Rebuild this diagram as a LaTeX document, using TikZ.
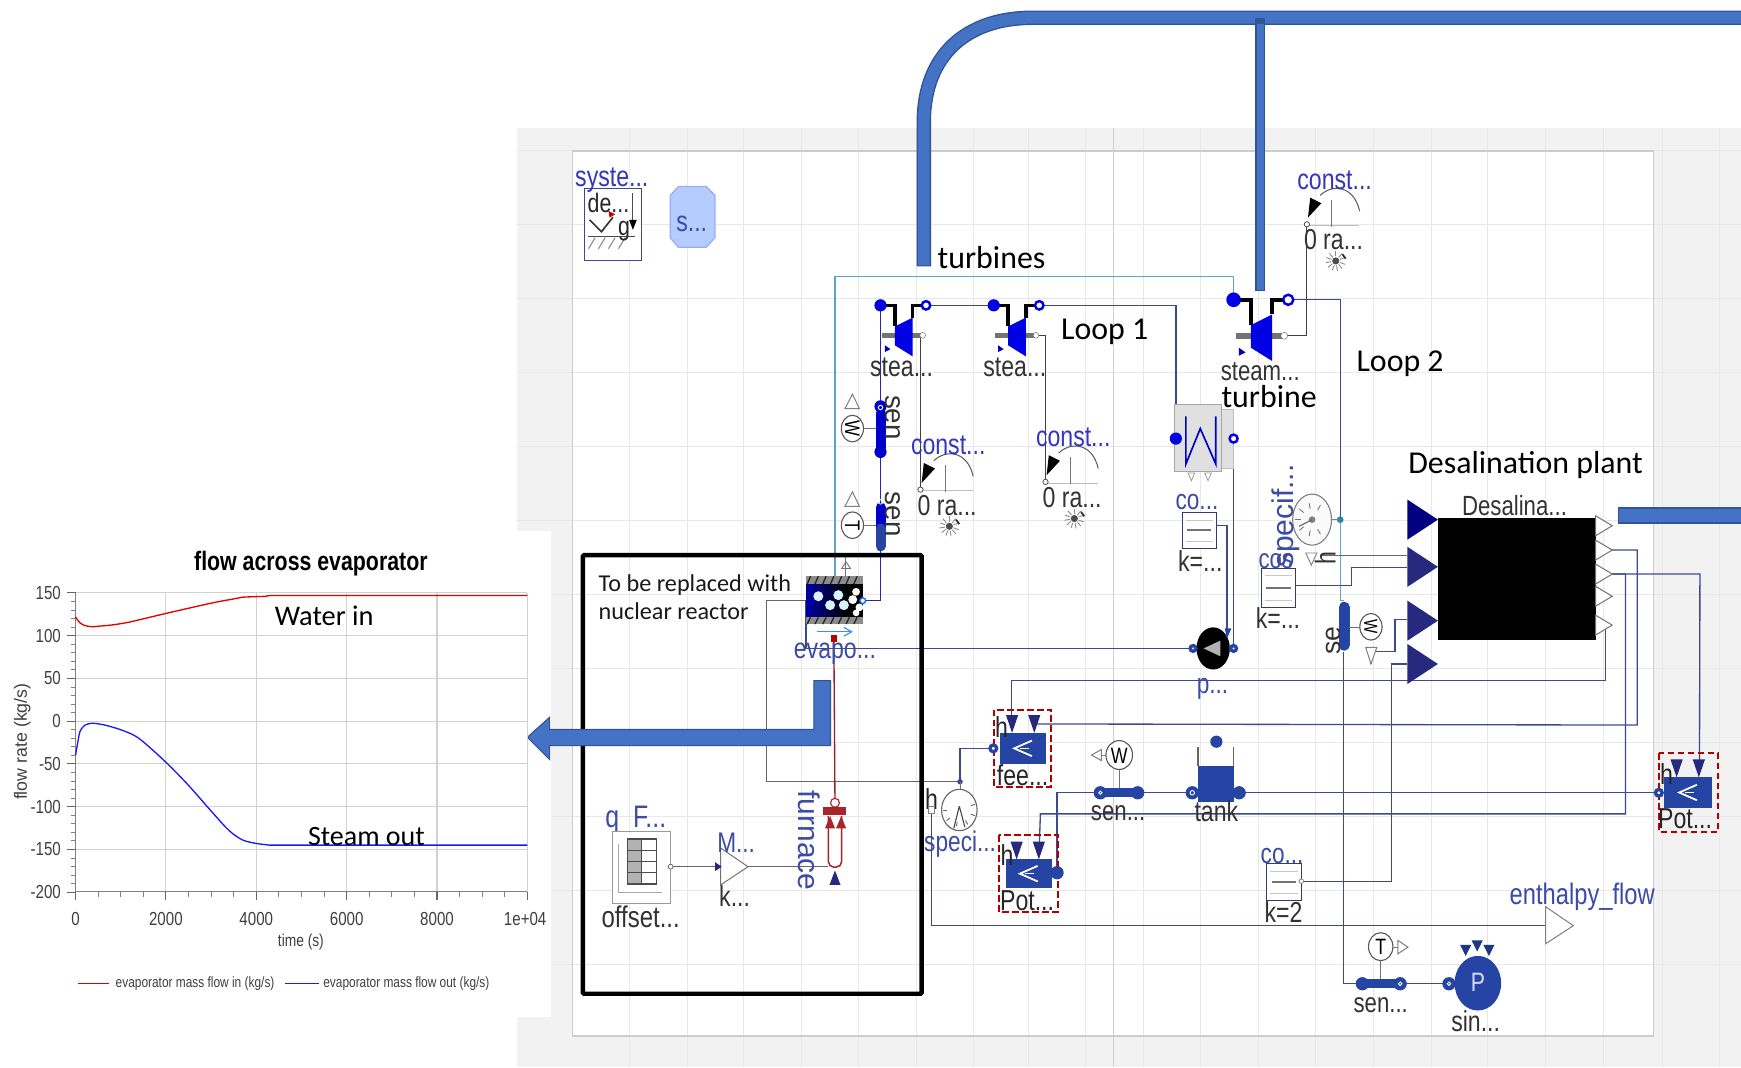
\documentclass[tikz,border=0pt]{standalone}
\usepackage{fontspec}
\newfontfamily\modl[FakeStretch=0.8]{Liberation Sans}
\newfontfamily\modlw{Liberation Sans}
\newfontfamily\ann{Carlito}
\usetikzlibrary{calc}
\definecolor{pipe}{HTML}{4472C4}
\definecolor{pipeedge}{HTML}{2F5597}
\definecolor{wirecol}{HTML}{3E4A8E}
\definecolor{lightwire}{HTML}{5FA3CC}
\definecolor{lblblue}{HTML}{3535BE}
\definecolor{lblnavy}{HTML}{3B4BA6}
\definecolor{comp}{HTML}{2544A4}
\definecolor{navytri}{HTML}{27297F}
\definecolor{dred}{HTML}{A8252C}
\newcommand\fs[1]{\fontsize{#1}{#1}\selectfont}
\tikzset{
  wire/.style={draw=wirecol,line width=1.2pt},
  grayline/.style={draw=black!60,line width=1pt},
  lightw/.style={draw=lightwire,line width=1.1pt},
  blackw/.style={draw=black!75,line width=1pt},
  lab/.style={inner sep=0pt,font=\modl\fs{26},text=black!80},
  blab/.style={inner sep=0pt,font=\modl\fs{26},text=lblblue},
  nlab/.style={inner sep=0pt,font=\modl\fs{25.5},text=lblnavy},
  note/.style={inner sep=0pt,font=\ann\fs{28.7},text=black},
  tick/.style={inner sep=0pt,font=\modl\fs{17},text=black!75},
  ringup/.style={draw=blue!90!black,fill=white,line width=2.2pt},
  ringlow/.style={draw=comp,fill=white,line width=2.2pt},
  redbox/.style={draw=red!70!black,dashed,line width=1.8pt,dash pattern=on 6pt off 3pt},
  gridl/.style={draw=black!9,line width=.9pt},
}
\newcommand\turbsym[3]{\begin{scope}[shift={(#1,#2)},scale=#3]
  \draw[black!55,line width=5pt] (1.5,27)--(38,27);
  \fill[blue!90!black] (13,19)--(29,11)--(29,46)--(13,36)--cycle;
  \draw[black,line width=3.2pt] (0,0)-|(13,19);
  \draw[black,line width=3.2pt] (41,0)-|(29,11);
  \fill[blue!90!black] (0,0) circle (5.5);
  \draw[ringup] (41,0) circle (3.8);
  \fill[white,draw=black!60] (38,27) circle (2.6);
  \fill[blue!70!black] (4,36)--(9,39.5)--(4,42)--cycle;
\end{scope}}
\newcommand\eyeicon[2]{\begin{scope}[shift={(#1,#2)}]
  \fill[black!70] (0,0) circle (3.2);
  \foreach \a in {20,50,80,110,140,170,200,340,310,270,230}{\draw[black!45,line width=.8pt] (\a:4)--(\a:9);}
  \draw[black!80,line width=1.6pt] (6,-6)--(9,-2);
\end{scope}}
\newcommand\constsym[3]{\begin{scope}[shift={(#1,#2)}]
  \draw[black!25,line width=.8pt] (0,1)--(47,1);
  \draw[black!55,line width=.9pt] (22.6,-22)--(22.6,2);
  \draw[black!65,line width=.9pt] (12,-26) .. controls (22,-36) and (42,-36) .. (47.5,-12);
  \fill[black] (1,-6)--(3,-24)--(13,-19)--cycle;
  \draw[black!70,fill=white,line width=.7pt] (0,0) circle (2.4);
  \node[blab] (#3lab) at (25,-40) {const...};
  \node[lab] (#3val) at (24,14) {0 ra...};
  \eyeicon{26}{33}
\end{scope}}
\newcommand\gainbox[4]{%
  \draw[draw=wirecol!80!black,fill=white,line width=.9pt] (#1,#2) rectangle (#3,#4);
  \draw[black!22,line width=.9pt] ($(#1,#2)!.1!(#3,#2)+(0,7)$)--($(#1,#2)!.9!(#3,#2)+(0,7)$);
  \draw[black!22,line width=.9pt] ($(#1,#4)!.1!(#3,#4)+(0,-6)$)--($(#1,#4)!.9!(#3,#4)+(0,-6)$);
  \draw[black!55,line width=1.5pt] ($(#1,#2)!.15!(#3,#2)!.5!($(#1,#4)!.15!(#3,#4)$)$)--($(#1,#2)!.85!(#3,#2)!.5!($(#1,#4)!.85!(#3,#4)$)$);
}
\newcommand\valvesym[9]{%
  \draw[redbox] (#1,#2) rectangle (#3,#4);
  \fill[comp] (#5,#6) rectangle (#7,#8);
  \draw[white,line width=1.6pt] ($(#5,#6)!.5!(#7,#8)+(8,-7)$)--($(#5,#6)!.5!(#7,#8)+(-8,0)$)--($(#5,#6)!.5!(#7,#8)+(8,7)$);
  \draw[white,line width=1.2pt] ($(#5,#6)!.5!(#7,#8)+(-3,0)$)--($(#5,#6)!.5!(#7,#8)+(5,0)$);
  \fill[navytri] (#9-5.5,\valy-9)--(#9+5.5,\valy-9)--(#9,\valy+7)--cycle;
  \fill[navytri] (#9+14.5,\valy-9)--(#9+25.5,\valy-9)--(#9+20,\valy+7)--cycle;
}
\newcommand\sensbarh[3]{%
  \draw[comp,line width=8pt,line cap=round] (#1+4,#3)--(#2-4,#3);
  \fill[comp] (#1+4,#3) circle (6) (#2-4,#3) circle (6);
}
\newcommand\destri[2]{\fill[#2] (1267.6,#1-18)--(1295,#1)--(1267.6,#1+18)--cycle;}
\newcommand\outtri[1]{\draw[fill=white,draw=black!55,line width=.9pt] (1437,#1-9)--(1452,#1)--(1437,#1+9)--cycle;}
\begin{document}
\begin{tikzpicture}[x=1pt,y=-1pt]
\useasboundingbox (0,0) rectangle (1568,961);
\fill[white] (0,0) rectangle (1568,961);
\fill[black!5] (466,115) rectangle (1568,961);
\fill[white] (516,136) rectangle (1489,933);
\foreach \gy in {135.5,202,268.6,335.3,402,468.6,535.3,602,668.6,735.3,802,868.6}{\draw[gridl] (466,\gy)--(1568,\gy);}
\foreach \gx in {567,619,670,722,773,825,877,926,978,1030,1081,1133,1185,1237,1289,1340,1392,1444,1497,1549}{\draw[gridl] (\gx,115)--(\gx,961);}
\draw[draw=black!18,line width=1pt] (1003,115)--(1003,961);
\draw[draw=black!20,line width=1pt] (516,136) rectangle (1489,933);
\fill[white] (0,478) rectangle (496,916);
% ports
\coordinate (t1in) at (793,275); \coordinate (t1out) at (834,275); \coordinate (t1sh) at (831,302);
\coordinate (t2in) at (895,275); \coordinate (t2out) at (936,275); \coordinate (t2sh) at (933,302);
\coordinate (t3in) at (1111,270); \coordinate (t3out) at (1160,270); \coordinate (t3sh) at (1155,302);
\coordinate (c1) at (829,441); \coordinate (c2) at (941.6,434); \coordinate (c3) at (1177,202);
\coordinate (condin) at (1059,395); \coordinate (condout) at (1111,395);
\coordinate (pumpin) at (1074.5,584); \coordinate (pumpout) at (1111,584);
\coordinate (evT) at (752,519); \coordinate (evR) at (777,541); \coordinate (evL) at (726,541);
\coordinate (evB) at (751,575); \coordinate (evC) at (726,584);
\coordinate (furnT) at (752,723); \coordinate (furnS) at (746,780.6);
\coordinate (tabO) at (604,780.6); \coordinate (gainI) at (649,780.6); \coordinate (gainO) at (674,780.6);
\coordinate (specT) at (864.6,704); \coordinate (specH) at (839,729);
\coordinate (teeL) at (894.6,674); \coordinate (teeA) at (911,652); \coordinate (teeB) at (931,652);
\coordinate (potLp) at (952,786); \coordinate (potLa) at (936,763);
\coordinate (potRp) at (1494,714); \coordinate (potRb) at (1530.6,690);
\coordinate (tankL) at (1073.8,714); \coordinate (tankR) at (1116,714);
\coordinate (senmL) at (987,714); \coordinate (senmR) at (1028.6,714);
\coordinate (senbL) at (1223,886); \coordinate (senbR) at (1265,886);
\coordinate (sinkp) at (1305,886);
\coordinate (enth) at (1392,833.7);
\coordinate (dot2) at (1207,468);
\coordinate (segT) at (1210,541); \coordinate (segB) at (1210,587);
\coordinate (wT) at (1234.7,598);
\coordinate (co1O) at (1095.5,473.5); \coordinate (co2O) at (1167,527.5); \coordinate (co3O) at (1172,793.6);
\coordinate (hO) at (1190,500);
\coordinate (d2a) at (1267.6,500); \coordinate (d2b) at (1267.6,511); \coordinate (d3) at (1267.6,558); \coordinate (d4) at (1267.6,598);
\coordinate (o2) at (1452,495.4); \coordinate (o3) at (1452,517); \coordinate (o5) at (1445,563);
% connectors
\draw[lightw] (evT)--(752,249)-|(t3in);
\draw[wire] (t1out)--(t2in);
\draw[wire] (t2out)-|(condin);
\draw[wire,draw=blue!55!black!85] (t1in)--(793,541)--(evR);
\draw[blackw] (t1sh)--(c1|-t1sh)--(c1);
\draw[blackw] (t2sh)--(c2|-t2sh)--(c2);
\draw[blackw] (t3sh)-|(c3);
\draw[wire] (t3out)-|(dot2);
\draw[lightw] (dot2)--(1207,541)--(segT);
\draw[wire] (evL)--(evC)--(pumpin);
\draw[grayline] (evL)--(690,541)--(690,704)--(specT);
\draw[wire] (teeL)-|(specT);
\draw[draw=dred!90!black,line width=1.2pt] (evB)--(furnT);
\draw[wire] (condout)--(pumpout);
\draw[wire] (co1O)--(1105,473.5)--(1105,568);
\draw[grayline] (hO)--(d2a);
\draw[wire] (co2O)--(1217,527.5)--(1217,511)--(d2b);
\draw[wire] (wT)--(1234.7,587)--(1256.5,587)--(1256.5,558)--(d3);
\draw[wire] (co3O)-|(1253,598)--(d4);
\draw[wire] (o2)--(1474.5,495.4)--(1474.5,653)--(teeB);
\draw[wire] (o3)--(1531,517)--(potRb);
\draw[wire] (o3)--(1464,517)--(1464,733)--(937,733)--(potLa);
\draw[wire] (o5)--(1446,563)--(1446,613)--(911,613)--(teeA);
\draw[wire] (tankR)--(potRp);
\draw[wire] (tankL)--(senmR);
\draw[wire] (senmL)--(952,714)--(potLp);
\draw[wire] (specH)--(839,833.7)--(enth);
\draw[wire] (segB)--(1210,886)--(senbL);
\draw[wire] (senbR)--(sinkp);
\draw[grayline] (tabO)--(gainI);
\draw[grayline] (gainO)--(furnS);
% system
\draw[wirecol,fill=white,line width=.9pt] (526,170) rectangle (578,235);
\draw[black!80,line width=1.5pt] (531,198)--(541.7,208.7)--(552,195.7);
\fill[red!80!black] (548,190)--(554,193)--(549,196)--cycle;
\draw[black!70,line width=1pt] (529.6,212.6)--(572,212.6);
\foreach \hx in {536,545,554,563}{\draw[black!45,line width=1pt] (\hx,214)--(\hx-6,224);}
\draw[black!70,line width=1pt] (570,174)--(570,200);
\fill[black] (566.5,198)--(573.5,198)--(570,207)--cycle;
\node[blab] (syslab) at (551,162) {syste...};
\node[lab,font=\modl\fs{24},text=black!85] (sysde) at (548,183) {de...};
\node[lab,font=\modl\fs{24},text=black!85] (sysg) at (562,208) {g};
% s block
\draw[draw=blue!35!white,fill=blue!22!white!90!cyan,line width=1.2pt] (611,168)--(636,168)--(644,176)--(644,214)--(636,222.7)--(611,222.7)--(603.6,214)--(603.6,176)--cycle;
\node[nlab,font=\modl\fs{26}] (slab) at (623,202) {s...};
% turbines
\turbsym{793}{275}{1}
\turbsym{895}{275}{1}
\turbsym{1111}{270}{1.2}
\node[lab] (st1) at (812,331) {stea...};
\node[lab] (st2) at (914,331) {stea...};
\node[lab,font=\modl\fs{25}] (st3) at (1135,335) {steam...};
% const
\constsym{829}{441}{conA}
\constsym{941.6}{434}{conB}
\constsym{1177}{202}{conC}
% vertical sensors
\draw[blue!80!black,line width=9pt,line cap=round] (793,372)--(793,403);
\draw[blue!80!black,line width=9pt,line cap=round] (793,457)--(793,476);
\draw[comp,line width=9pt,line cap=round] (793,476)--(793,492);
\fill[blue!80!black] (793,407) circle (5.5) (793,366) circle (5.5);
\draw[white,line width=.8pt] (793,367) circle (2);
\draw[white,line width=.8pt] (793,452) circle (2);
\draw[black!55,line width=.9pt] (778,386)--(789,386);
\draw[black!55,line width=.9pt] (778,473)--(789,473);
\draw[black!65,fill=white,line width=1pt] (767.7,386) ellipse (10 and 12);
\draw[black!65,fill=white,line width=1pt] (767.7,473) ellipse (10 and 12);
\draw[black!50,fill=white,line width=.9pt] (767.7,355)--(761,368)--(774,368)--cycle;
\draw[black!50,fill=white,line width=.9pt] (767.7,443)--(761,456)--(774,456)--cycle;
\node[lab,rotate=-90,font=\modlw\fs{25}] (sen1) at (804,376) {sen};
\node[lab,rotate=-90,font=\modlw\fs{25}] (sen2) at (804,463) {sen};
\node[lab,rotate=-90,font=\modl\fs{19},text=black] (semA) at (767.7,386) {W};
\node[lab,rotate=-90,font=\modl\fs{19},text=black] (semB) at (767.7,473) {T};
% evaporator
\fill[black] (726,526) rectangle (777,556);
\shade[left color=blue!65!black,right color=black] (726,526) rectangle (762,556);
\fill[black!45] (726,519) rectangle (777,526);
\fill[black!45] (726,556) rectangle (777,562);
\foreach \hx in {730,737,...,776}{\draw[black!85,line width=1.2pt] (\hx,519)--(\hx-3,526); \draw[black!85,line width=1.2pt] (\hx,556)--(\hx-3,562);}
\foreach \bx/\by in {737/537,755/536,747.6/545,760/545}{\fill[white!85!cyan] (\bx,\by) circle (4.5);}
\fill[white] (771,533) circle (3.5) (768,540) circle (4) (774,547) circle (3.5) (771,552) circle (3);
\draw[draw=blue!60!cyan,fill=white,line width=1.2pt] (evR) circle (2.6);
\draw[black!55,fill=white,line width=.8pt] (762,506)--(758,512)--(766,512)--cycle;
\draw[black!55,line width=.8pt] (761.5,500)--(761.5,519);
\draw[blue!55!cyan!80,line width=1pt] (736,569)--(767,569);
\draw[blue!55!cyan!80,line width=1pt] (760,565)--(767,569)--(760,573);
\fill[red!75!black] (748,572) rectangle (754,578);
\node[nlab,font=\modl\fs{26}] (evlab) at (752,589) {evapo...};
% furnace
\draw[dred,line width=1.4pt,rounded corners=5pt] (746,735)--(746,781)--(758,781)--(758,735);
\draw[dred,fill=white,line width=1pt] (752,723) circle (4);
\fill[dred] (741.6,727) rectangle (762,734);
\fill[dred] (747.6,735)--(743,746)--(752,746)--cycle (757.6,735)--(753,746)--(762,746)--cycle;
\fill[navytri] (752,784)--(747,797)--(757,797)--cycle;
\node[nlab,rotate=-90,font=\modlw\fs{27}] (furnlab) at (729,757) {furnace};
% gain M
\draw[black!55,fill=white,line width=.9pt] (649,763.7)--(673.7,780.6)--(649,797)--cycle;
\fill[navytri] (644,776.5)--(650,780.6)--(644,784.5)--cycle;
\node[nlab] (mlab) at (663,759) {M...};
\node[lab] (klab) at (661.6,807) {k...};
% table
\node[nlab,anchor=west,font=\modl\fs{28}] (qlab) at (545,738.5) {q\_F...};
\draw[black!40,fill=white,line width=.9pt] (552,749) rectangle (604,814);
\fill[black!30] (565,755.7) rectangle (578,796);
\draw[black!70,line width=1.2pt] (565,755.7) rectangle (591,796);
\draw[black!70,line width=1.2pt] (578,755.7)--(578,796);
\foreach \ty in {765.7,775.7,786}{\draw[black!70,line width=1.1pt] (565,\ty)--(591,\ty);}
\draw[black!35,line width=.8pt] (557,760)--(557,804)--(596,804);
\draw[black!60,fill=white,line width=.7pt] (tabO) circle (2.2);
\node[lab,font=\modl\fs{27}] (offlab) at (577,825.6) {offset...};
% condenser
\draw[black!25,fill=black!12,line width=1pt] (1100,368.6) rectangle (1111,421.6);
\draw[black!35,fill=black!12,line width=1pt] (1058,364) rectangle (1100,425);
\draw[blue!80!black,line width=1.5pt] (1068,375)--(1068,418)--(1081,386)--(1095,418)--(1095,375);
\fill[blue!90!black] (condin) circle (5.5);
\draw[ringup] (condout) circle (3.6);
\draw[black!40,fill=white,line width=.7pt] (1070,426)--(1076,426)--(1073,433)--cycle (1085,426)--(1091,426)--(1088,433)--cycle;
% co gains
\gainbox{1064.6}{461.6}{1095.5}{493.6}
\node[nlab] (cola) at (1078,452) {co...};
\node[lab] (colk) at (1081,505) {k=...};
\gainbox{1135.8}{511.7}{1167}{547}
\node[lab] (colk2) at (1151,557) {k=...};
\gainbox{1140.5}{777.7}{1172}{810.6}
\node[nlab] (cola3) at (1154.7,770.7) {co...};
\node[lab] (colk3) at (1156,821) {k=2};
\draw[black!50,fill=white,line width=.7pt] (1172,793.6) circle (2);
% specific up
\draw[black!50,fill=black!2,line width=1pt] (1181.7,468) ellipse (17.5 and 23);
\foreach \sa in {100,140,180,220,260,60,300}{\draw[black!55,line width=.8pt] ($(1181.7,468)+(\sa:15)$)--($(1181.7,468)+(\sa:10)$);}
\fill[black!50] (1181.7,468) circle (3);
\draw[black!60,line width=1pt] (1181.7,468)--(1170,474);
\draw[black!50,fill=white,line width=.8pt] (1176,498)--(1186,498)--(1181,509)--cycle;
\fill[wirecol!70!cyan] (dot2) circle (3);
\draw[black!50,line width=.9pt] (1199,468)--(dot2);
\node[nlab,rotate=90,font=\modlw\fs{27}] (spflab) at (1158,465) {specif...};
\node[nlab,font=\modl\fs{25}] (cola2) at (1149,505) {cos};
\node[lab,rotate=90,text=black!80] (hU) at (1193.5,503) {h};
% pump
\fill[black] (1092.6,584) ellipse (15 and 19);
\fill[black!30] (1084,584)--(1099,577)--(1099,591)--cycle;
\draw[ringlow,line width=3pt] (pumpin) circle (2.6);
\draw[ringlow,line width=3pt] (pumpout) circle (2.6);
\fill[comp] (1103,566)--(1109,566)--(1105,575)--cycle;
\node[nlab] (pulab) at (1092,620) {p...};
% right sensor
\draw[comp,line width=10pt,line cap=round] (1210.5,547)--(1210.5,581);
\draw[black!55,line width=.9pt] (1215,565)--(1225,565);
\draw[black!65,fill=white,line width=1pt] (1234.7,564.5) ellipse (10 and 12);
\draw[black!50,fill=white,line width=.9pt] (1230,583)--(1240,583)--(wT)--cycle;
\node[lab,rotate=-90,font=\modl\fs{17},text=black] (semC) at (1234.7,564.5) {W};
\node[lab,rotate=90,font=\modlw\fs{24}] (selab) at (1201,577) {se};
% desalination
\fill[black] (1295,466.4) rectangle (1437,576.5);
\destri{468}{blue!50!black}
\destri{510.5}{navytri}
\destri{559}{navytri}
\destri{598}{navytri}
\outtri{473.5}\outtri{495.4}\outtri{517}\outtri{537}\outtri{563}
\node[lab,font=\modl\fs{25}] (deslab) at (1364,455) {Desalina...};
% tank
\draw[black!60,line width=1.1pt] (1079,673)--(1079,690);
\draw[black!60,line width=1.1pt] (1111,673)--(1111,690);
\fill[comp] (1079,690) rectangle (1111,722);
\fill[comp] (1095.5,668) circle (5.5);
\fill[comp] (tankL) circle (6) (tankR) circle (6);
\draw[white,line width=.8pt] (tankL) circle (2);
\node[lab] (tanklab) at (1095.5,731) {tank};
% mid sensor
\sensbarh{987}{1028.6}{714}
\draw[white,line width=.8pt] (991,714) circle (1.5);
\draw[black!55,line width=.9pt] (1008,692)--(1008,710);
\draw[black!65,fill=white,line width=1pt] (1008,680) ellipse (12 and 13);
\draw[black!50,fill=white,line width=.9pt] (983,680)--(992,675)--(992,685)--cycle;
\draw[black!50,line width=.8pt] (992,680)--(996,680);
\node[lab,font=\modl\fs{20},text=black] (wm) at (1008,681) {W};
\node[lab,font=\modl\fs{25}] (senm) at (1007,732) {sen...};
% valves
\def\valy{653}\valvesym{895}{639}{946.8}{708.6}{901}{660}{941.8}{688}{911.5}
\draw[ringlow,line width=3pt] (teeL) circle (3);
\node[lab,text=black!85] (teeh) at (902,655) {h};
\node[lab,text=black!85] (teelab) at (921,698) {fee...};
\def\valy{767}\valvesym{900}{752}{952.8}{821.5}{905.6}{773.7}{947.5}{800}{915.6}
\fill[comp] (potLp) circle (6);
\node[lab,text=black!85] (pothh) at (907,770) {h};
\node[lab,text=black!85] (potll) at (925,811) {Pot...};
\def\valy{693}\valvesym{1494}{678.6}{1547.6}{749}{1499}{699.5}{1541.6}{728}{1510}
\draw[ringlow,line width=3pt] (potRp) circle (3);
\node[lab,text=black!85] (poth2) at (1501,697) {h};
\node[lab,text=black!85] (potrr) at (1517.6,737) {Pot...};
% speci sensor
\draw[black!60,fill=white,line width=1pt] (864,729.5) ellipse (16 and 18.6);
\foreach \sa in {20,60,100,140,180,340}{\draw[black!60,line width=.8pt] ($(864,729.5)+(\sa:15)$)--($(864,729.5)+(\sa:11)$);}
\draw[black!70,line width=1pt] (864,726)--(859,746) (864,726)--(869,745);
\fill[wirecol] (specT) circle (2.5);
\draw[black!55,line width=.9pt] (864.6,704)--(864.6,711);
\node[lab,text=black!85] (speh) at (839,719.7) {h};
\draw[black!50,fill=white,line width=.8pt] (836,726) rectangle (842,733);
\node[nlab] (spelab) at (864.7,760) {speci...};
% enthalpy
\draw[black!50,fill=white,line width=.9pt] (1392,816.6)--(1417,833.7)--(1392,850)--cycle;
\node[nlab,font=\modl\fs{26.7}] (enthlab) at (1425,807.6) {enthalpy\_flow};
% bottom sensor and sink
\sensbarh{1223}{1265}{886}
\draw[white,line width=.8pt] (1261,886) circle (1.6);
\draw[black!55,line width=.9pt] (1243.5,864)--(1243.5,882);
\draw[black!65,fill=white,line width=1pt] (1243.5,852.6) ellipse (11 and 12.6);
\node[lab,font=\modl\fs{20},text=black] (tb) at (1243.5,853) {T};
\draw[black!50,fill=white,line width=.9pt] (1259,847)--(1268,853)--(1259,859)--cycle;
\draw[black!50,line width=.8pt] (1254,853)--(1259,853);
\node[lab,font=\modl\fs{25}] (senb) at (1243.5,905) {sen...};
\fill[comp] (1331,885.5) ellipse (21 and 24.6);
\fill[comp] (sinkp) circle (6);
\draw[white,line width=.8pt] (sinkp) circle (1.6);
\foreach \px/\py in {1320/851,1330.4/847,1341/851}{\fill[comp!80!black] (\px-5,\py)--(\px+5,\py)--(\px,\py+10)--cycle;}
\node[inner sep=0pt,font=\modl\fs{24},text=white!85!blue] (plab) at (1331,885) {P};
\node[lab] (sinlab) at (1329,920) {sin...};
% black frame
\draw[black,line width=4pt,rounded corners=1pt] (525,500) rectangle (830,895);
% annotations
\node[note,anchor=north west,align=left,font=\ann\fs{21.8},text=black!90] (toberep) at (539,517) {To be replaced with\\[4pt]nuclear reactor};
\node[note] (turbs) at (893,232) {turbines};
\node[note] (loop1) at (995,299) {Loop 1};
\node[note] (loop2) at (1261,328) {Loop 2};
\node[note] (turb) at (1143,357) {turbine};
\node[note] (desp) at (1374,419) {Desalination plant};
% big pipes
\draw[draw=pipeedge,line width=13pt] (832,240)--(832,110) .. controls (832,50) and (870,16) .. (930,16)--(1568,16);
\draw[draw=pipe,line width=10.5pt] (832,239)--(832,110) .. controls (832,50) and (870,16) .. (930,16)--(1568,16);
\draw[draw=pipeedge,line width=9pt] (1135,16)--(1135,262);
\draw[draw=pipe,line width=6.5pt] (1135,22)--(1135,261);
\fill[pipe,draw=pipeedge,line width=1pt] (1458,457.5) rectangle (1569,471);
\fill[pipe,draw=pipeedge,line width=1pt] (733,613)--(748,613)--(748,671.5)--(495,671.5)--(495,684)--(475,664)--(495,646)--(495,657)--(733,657)--cycle;
% chart
\begin{scope}
 \foreach \v in {534,572.5,611,649.5,688,726.5,765}{\draw[black!18,line width=1pt] (68,\v)--(475,\v);}
 \foreach \u in {149.4,230.8,312.2,393.6,475}{\draw[black!18,line width=1pt] (\u,534)--(\u,803);}
 \draw[black!50,line width=1pt] (68,534)--(68,803)--(475,803);
 \foreach \i in {0,...,35}{\draw[black!50,line width=.8pt] (64,534+\i*7.7)--(68,534+\i*7.7);}
 \foreach \i in {0,...,7}{\draw[black!60,line width=1pt] (60,534+\i*38.5)--(68,534+\i*38.5);}
 \foreach \i in {0,...,20}{\draw[black!50,line width=.8pt] (68+\i*20.35,803)--(68+\i*20.35,808);}
 \foreach \i in {0,...,5}{\draw[black!60,line width=1pt] (68+\i*81.4,803)--(68+\i*81.4,811);}
 \foreach \lb [count=\i from 0] in {150,100,50,0,-50,-100,-150,-200}{\node[tick,anchor=east] (yt\i) at (55,534+\i*38.5) {\lb};}
 \foreach \lb [count=\i from 0] in {0,2000,4000,6000,8000}{\node[tick] (xt\i) at (68+\i*81.4,827.5) {\lb};}
 \node[tick] (xt5) at (473,827.5) {1e+04};
 \node[tick,font=\modl\fs{15.5}] (xlab) at (271,848) {time (s)};
 \node[tick,rotate=90,font=\modlw\fs{16}] (ylab) at (20,668) {flow rate (kg/s)};
 \node[inner sep=0pt,font=\modl\bfseries\fs{24},text=black] (ctitle) at (280,508) {flow across evaporator};
 \begin{scope}[shift={(68,649.5)},x=0.0407pt,y=0.77pt]
  \draw[red!90!black,line width=1.2pt] plot[smooth,tension=.5] coordinates {(0,122) (50,118) (100,115) (200,112) (350,110.5) (500,111) (800,112.5) (1200,116) (2000,126) (3000,138) (3500,143) (3700,145) (4200,146)} -- (4300,147)--(10000,147);
  \draw[blue!90!white,line width=1.2pt] plot[smooth,tension=.5] coordinates {(0,-40) (50,-25) (100,-12) (200,-5) (350,-2.5) (600,-4) (1000,-10) (1400,-20) (2000,-48) (2500,-75) (3000,-105) (3400,-128) (3700,-139) (4000,-143) (4300,-145)} -- (10000,-145);
 \end{scope}
 \coordinate (leg1a) at (70,886); \coordinate (leg1b) at (98,886);
 \coordinate (leg2a) at (257,886); \coordinate (leg2b) at (287,886);
 \draw[red!90!black,line width=1.2pt] (leg1a)--(leg1b);
 \draw[blue!90!white,line width=1.2pt] (leg2a)--(leg2b);
 \node[tick,font=\modl\fs{13.4},anchor=west] (leg1) at (104,886) {evaporator mass flow in (kg/s)};
 \node[tick,font=\modl\fs{13.4},anchor=west] (leg2) at (291,886) {evaporator mass flow out (kg/s)};
 \node[note,font=\ann\fs{25.6}] (wat) at (292,555) {Water in};
 \node[note,font=\ann\fs{25.2}] (ste) at (330,753) {Steam out};
\end{scope}
\end{tikzpicture}
\end{document}
